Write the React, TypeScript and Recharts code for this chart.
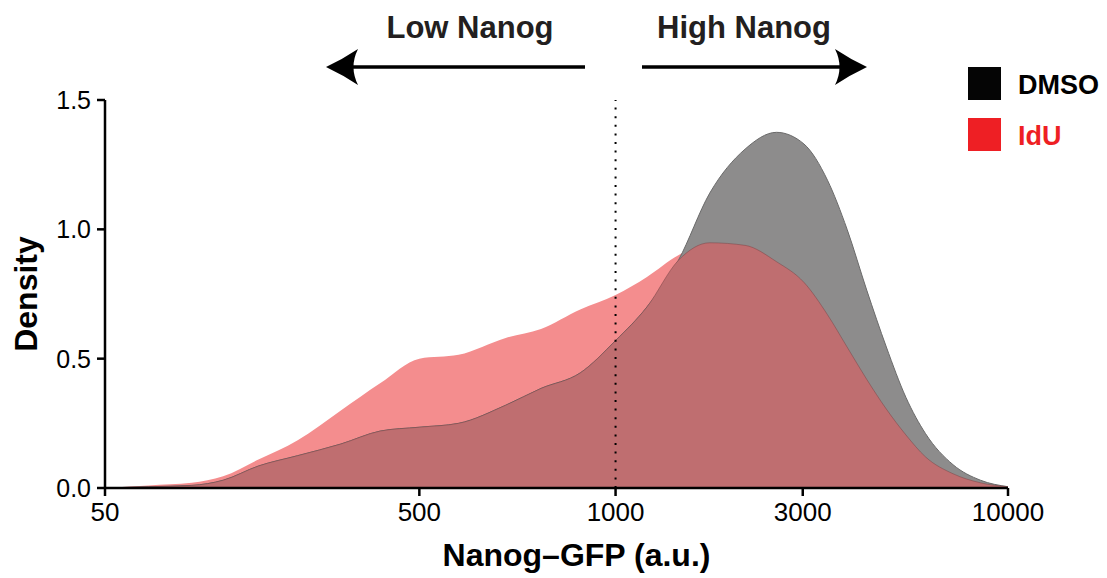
import { ComposedChart, Area, XAxis, YAxis, ReferenceLine } from "recharts"

// x positions are log10(Nanog-GFP)
const xLog = [1.7, 1.81, 1.92, 2.0, 2.09, 2.19, 2.3, 2.4, 2.5, 2.6, 2.72, 2.81, 2.91, 3.0, 3.08, 3.16, 3.24, 3.33, 3.41, 3.48, 3.54, 3.59, 3.64, 3.69, 3.74, 3.79, 3.86, 3.93, 4.0]
const dmso = [0, 0.005, 0.01, 0.03, 0.085, 0.125, 0.17, 0.22, 0.235, 0.25, 0.32, 0.385, 0.445, 0.57, 0.7, 0.88, 1.14, 1.31, 1.375, 1.33, 1.19, 1.0, 0.765, 0.545, 0.35, 0.21, 0.09, 0.03, 0.005]
const idu = [0, 0.01, 0.02, 0.045, 0.11, 0.185, 0.3, 0.405, 0.5, 0.515, 0.58, 0.615, 0.69, 0.746, 0.816, 0.9, 0.948, 0.938, 0.875, 0.795, 0.67, 0.545, 0.42, 0.305, 0.205, 0.12, 0.055, 0.02, 0.005]

const xTicks = [1.699, 2.5, 3, 3.477, 4]
const xTickLabels = ["50", "500", "1000", "3000", "10000"]
const yTicks = [0, 0.5, 1, 1.5]

const data = xLog.map((x, i) => ({ x, dmso: dmso[i], idu: idu[i], both: Math.min(dmso[i], idu[i]) }))

const FONT = "'Liberation Sans', Arial, Helvetica, sans-serif"

export default function App() {
  return (
    <div style={{ position: "absolute", left: 0, top: 0, width: 1107, height: 578, background: "#fff" }}>
      <ComposedChart width={1107} height={578} data={data} margin={{ top: 100, right: 99, bottom: 50, left: 45 }}>
        <XAxis
          dataKey="x"
          type="number"
          domain={[1.699, 4]}
          ticks={xTicks}
          tickFormatter={(v, i) => xTickLabels[i]}
          height={40}
          stroke="#000"
          strokeWidth={2.5}
          tickSize={8}
          tickMargin={7}
          tick={{ fill: "#000", fontSize: 26, fontFamily: FONT }}
          label={{ value: "Nanog–GFP (a.u.)", position: "bottom", offset: 15, dx: 20, fill: "#000", fontSize: 32, fontWeight: 700, fontFamily: FONT }}
        />
        <YAxis
          type="number"
          domain={[0, 1.5]}
          ticks={yTicks}
          tickFormatter={(v) => v.toFixed(1)}
          width={60}
          stroke="#000"
          strokeWidth={2.5}
          tickSize={8}
          tickMargin={6}
          tick={{ fill: "#000", fontSize: 25, fontFamily: FONT }}
          label={{ value: "Density", angle: -90, position: "insideLeft", offset: -19, fill: "#000", fontSize: 32, fontWeight: 700, fontFamily: FONT, style: { textAnchor: "middle" } }}
        />
        <Area type="monotone" dataKey="idu" fill="#f48d8e" fillOpacity={1} stroke="none" isAnimationActive={false} />
        <Area type="monotone" dataKey="dmso" fill="#8d8c8c" fillOpacity={1} stroke="#6a6a6a" strokeWidth={1} isAnimationActive={false} />
        <Area type="monotone" dataKey="both" fill="#bf6e70" fillOpacity={1} stroke="#7a4446" strokeOpacity={0.5} strokeWidth={1} isAnimationActive={false} />
        <ReferenceLine x={3} stroke="#000" strokeWidth={2} strokeDasharray="2 6.6" ifOverflow="visible" />
      </ComposedChart>
      <svg width={1107} height={160} style={{ position: "absolute", left: 0, top: 0, pointerEvents: "none" }}>
        <g fontFamily={FONT} fontWeight={700} fontSize={31} fill="#231f20" textAnchor="middle">
          <text x={470} y={38}>Low Nanog</text>
          <text x={744} y={38}>High Nanog</text>
        </g>
        <line x1={585} y1={67} x2={345} y2={67} stroke="#000" strokeWidth={3.5} />
        <path d="M326,67 Q343,59 358,49 Q349,67 358,85 Q343,75 326,67 Z" fill="#000" />
        <line x1={642} y1={67} x2={850} y2={67} stroke="#000" strokeWidth={3.5} />
        <path d="M867,67 Q850,59 835,49 Q844,67 835,85 Q850,75 867,67 Z" fill="#000" />
        <g fontFamily={FONT} fontWeight={700} fontSize={27}>
          <rect x={968} y={67} width={33} height={33} fill="#050505" />
          <text x={1018} y={94} fill="#000">DMSO</text>
          <rect x={968} y={118} width={33} height={33} fill="#ee1f24" />
          <text x={1018} y={145} fill="#ee1f24">IdU</text>
        </g>
      </svg>
    </div>
  )
}
